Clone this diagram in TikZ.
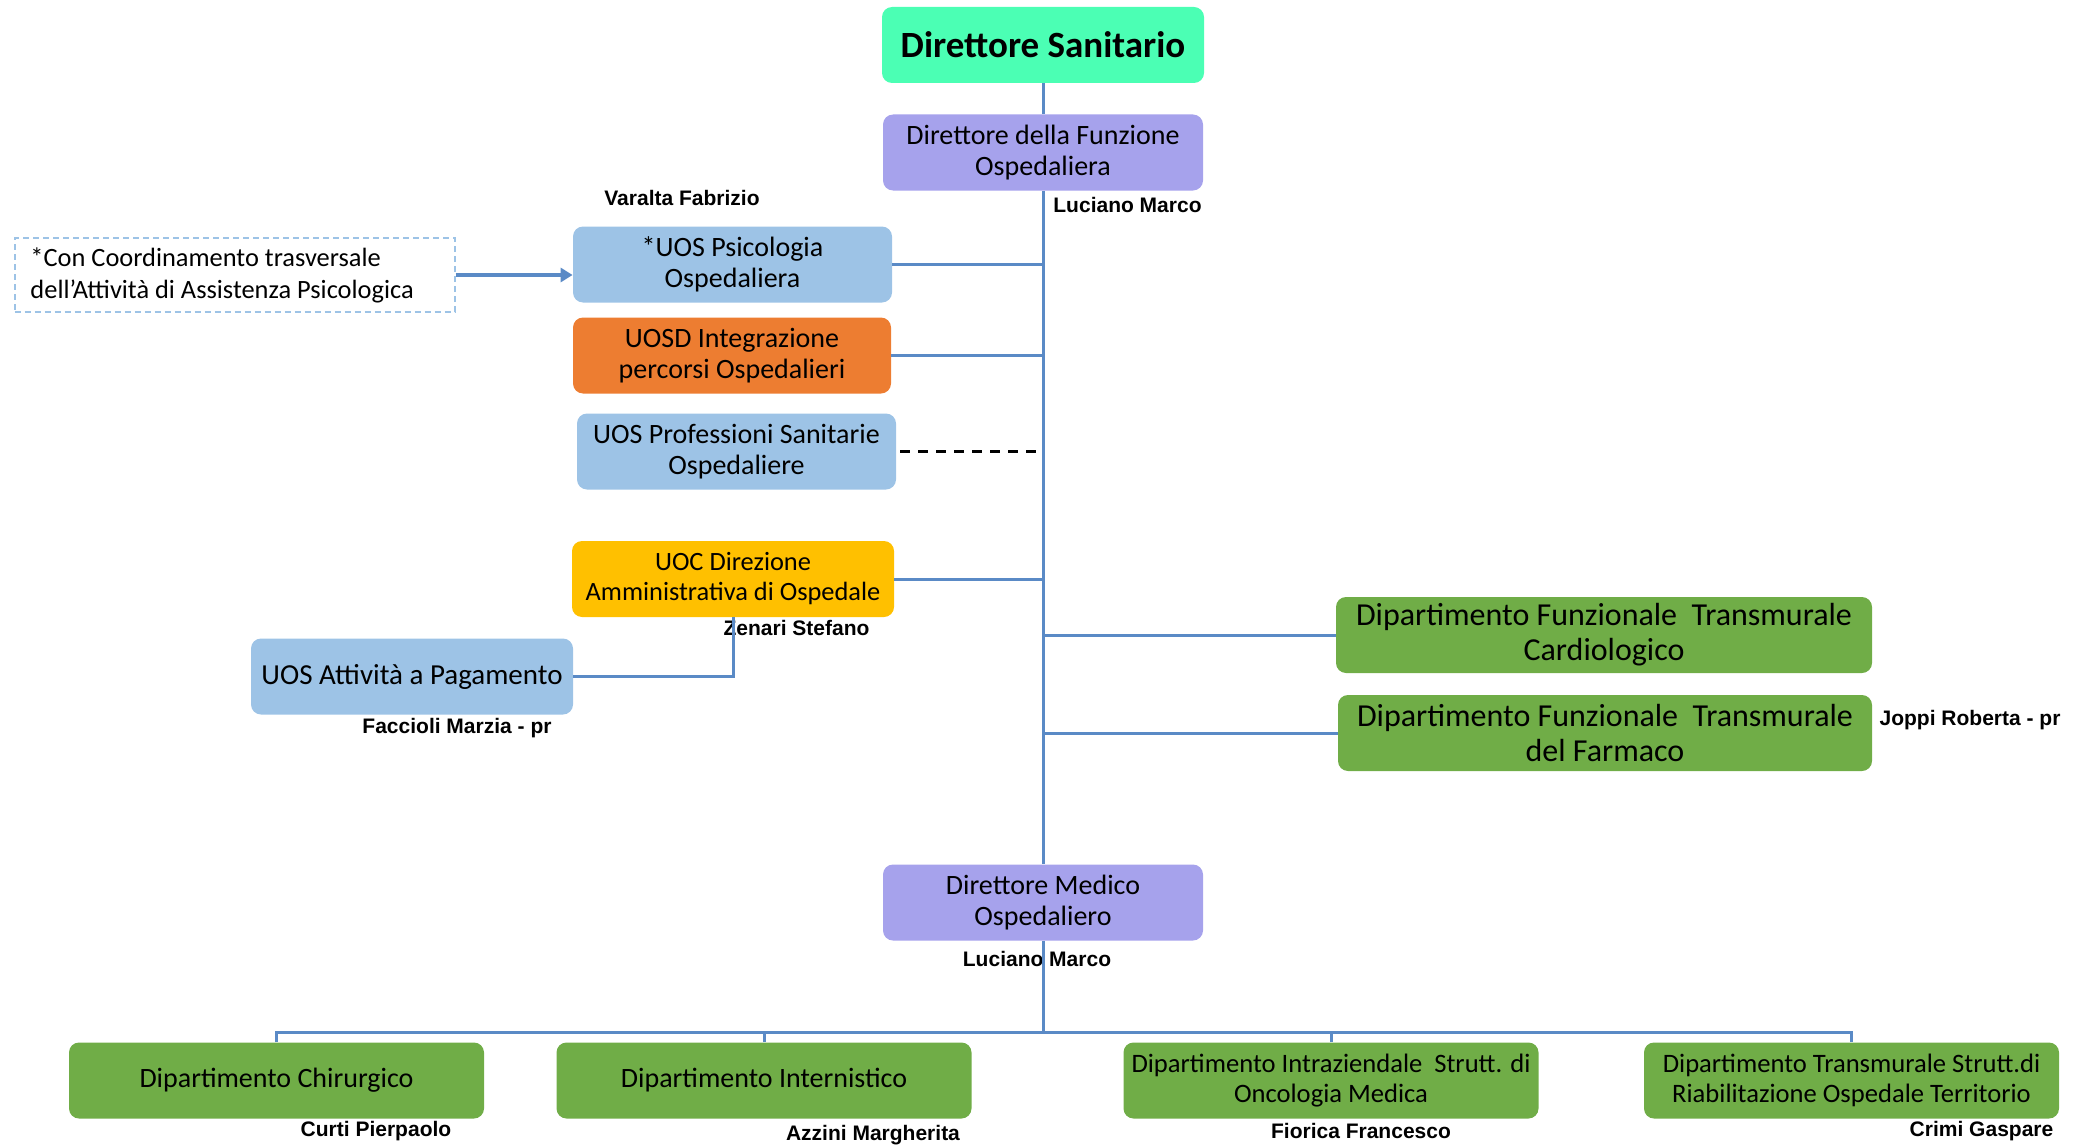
\documentclass[tikz,border=0pt]{standalone}
\usepackage{fontspec}
\setmainfont{Carlito}
\newfontfamily\namefont{Liberation Sans}
\usetikzlibrary{arrows.meta}
\definecolor{dsgreen}{HTML}{4BFFB4}
\definecolor{purp}{HTML}{A6A2EC}
\definecolor{lblue}{HTML}{9DC3E6}
\definecolor{orng}{HTML}{ED7D31}
\definecolor{yell}{HTML}{FFC000}
\definecolor{dgreen}{HTML}{70AD47}
\definecolor{lineblue}{HTML}{5A8AC6}

\begin{document}
\begin{tikzpicture}
  [x=0.5pt, y=-0.5pt,
   box/.style={rounded corners=5pt, align=center, inner sep=1pt,
     minimum width=160pt, minimum height=38pt, font=\fontsize{14}{15.5}\selectfont},
   dept/.style={box, fill=dgreen, minimum width=207.5pt, font=\fontsize{13.3}{15}\selectfont},
   who/.style={font=\namefont\bfseries\fontsize{10.5}{12}\selectfont, inner sep=0pt},
   conn/.style={draw=lineblue, line width=1.5pt},
   dashlink/.style={draw=black, line width=1.2pt, dash pattern=on 5pt off 4pt},
   note/.style={draw=lblue, line width=1pt, dash pattern=on 3pt off 2pt, inner xsep=8pt,
     text width=204pt, minimum height=37pt, align=flush left, font=\fontsize{13.2}{16}\selectfont}]
  \useasboundingbox (0,0) rectangle (2077,1145);

  \node [box, fill=dsgreen, minimum width=161pt, font=\bfseries\fontsize{18.5}{20}\selectfont] (ds) at (1043,45) {Direttore Sanitario};
  \node [box, fill=purp] (dfo) at (1043,152.5) {Direttore della Funzione\\Ospedaliera};
  \node [box, fill=lblue, minimum width=159.5pt] (psi) at (732.5,264.5) {*UOS Psicologia\\Ospedaliera};
  \node [box, fill=orng, minimum width=159pt] (uosd) at (732,355.5) {UOSD Integrazione\\percorsi Ospedalieri};
  \node [box, fill=lblue, minimum width=159.5pt] (prof) at (736.5,451.5) {UOS Professioni Sanitarie\\Ospedaliere};
  \node [box, fill=yell, minimum width=161pt, font=\fontsize{13.2}{15}\selectfont] (uoc) at (733,579) {UOC Direzione\\Amministrativa di Ospedale};
  \node [box, fill=lblue, minimum width=161pt, font=\fontsize{14.5}{16}\selectfont] (pag) at (412,676.5) {UOS Attività a Pagamento};
  \node [box, fill=dgreen, minimum width=268pt, font=\fontsize{16}{17.5}\selectfont] (card) at (1604,635) {Dipartimento Funzionale\ \ Transmurale\\Cardiologico};
  \node [box, fill=dgreen, minimum width=267pt, font=\fontsize{16}{17.5}\selectfont] (farm) at (1605,733) {Dipartimento Funzionale\ \ Transmurale\\del Farmaco};
  \node [box, fill=purp] (dmo) at (1043,902.5) {Direttore Medico\\Ospedaliero};
  \node [dept, font=\fontsize{14}{15.5}\selectfont] (chir) at (276.5,1080.5) {Dipartimento Chirurgico};
  \node [dept, font=\fontsize{14}{15.5}\selectfont] (inte) at (764,1080.5) {Dipartimento Internistico};
  \node [dept] (onco) at (1331,1080.5) {Dipartimento Intraziendale\ \ Strutt. di\\Oncologia Medica};
  \node [dept] (riab) at (1851.5,1080.5) {Dipartimento Transmurale Strutt.di\\Riabilitazione Ospedale Territorio};
  \node [note] (nota) at (234.5,275) {*Con Coordinamento trasversale\\dell’Attività di Assistenza Psicologica};

  \node [who, anchor=west] (lm1) at (1053,205) {Luciano Marco};
  \node [who] (vf) at (682,198) {Varalta Fabrizio};
  \node [who] (zs) at (796.5,628) {Zenari Stefano};
  \node [who] (fm) at (457,728) {Faccioli Marzia - pr};
  \node [who] (jr) at (1970,720) {Joppi Roberta - pr};
  \node [who] (lm2) at (1037,959) {Luciano Marco};
  \node [who] (cp) at (376,1131) {Curti Pierpaolo};
  \node [who] (am) at (873,1135) {Azzini Margherita};
  \node [who] (ff) at (1361,1131) {Fiorica Francesco};
  \node [who] (cg) at (1981.5,1131) {Crimi Gaspare};

  \coordinate (bus) at (1043,1032);
  \draw [conn] (ds) -- (dfo);
  \draw [conn] (dfo) -- (dmo);
  \draw [conn] (dmo) -- (bus);
  \draw [conn] (chir.north) |- (bus) -| (riab.north);
  \draw [conn] (inte.north) -- (inte.north |- bus);
  \draw [conn] (onco.north) -- (onco.north |- bus);
  \draw [conn] (psi.east) -- (psi.east -| dfo.south);
  \draw [conn] (uosd.east) -- (uosd.east -| dfo.south);
  \draw [conn] (uoc.east) -- (uoc.east -| dfo.south);
  \draw [conn] (card.west) -- (card.west -| dfo.south);
  \draw [conn] (farm.west) -- (farm.west -| dfo.south);
  \draw [dashlink, shorten <=2pt, shorten >=3pt] (prof.east) -- (prof.east -| dfo.south);
  \draw [conn] (pag.east) -| (uoc.south);
  \draw [conn, line width=1.6pt, -{Triangle[length=6pt,width=7pt]}] (nota.east) -- (nota.east -| psi.west);
\end{tikzpicture}
\end{document}
